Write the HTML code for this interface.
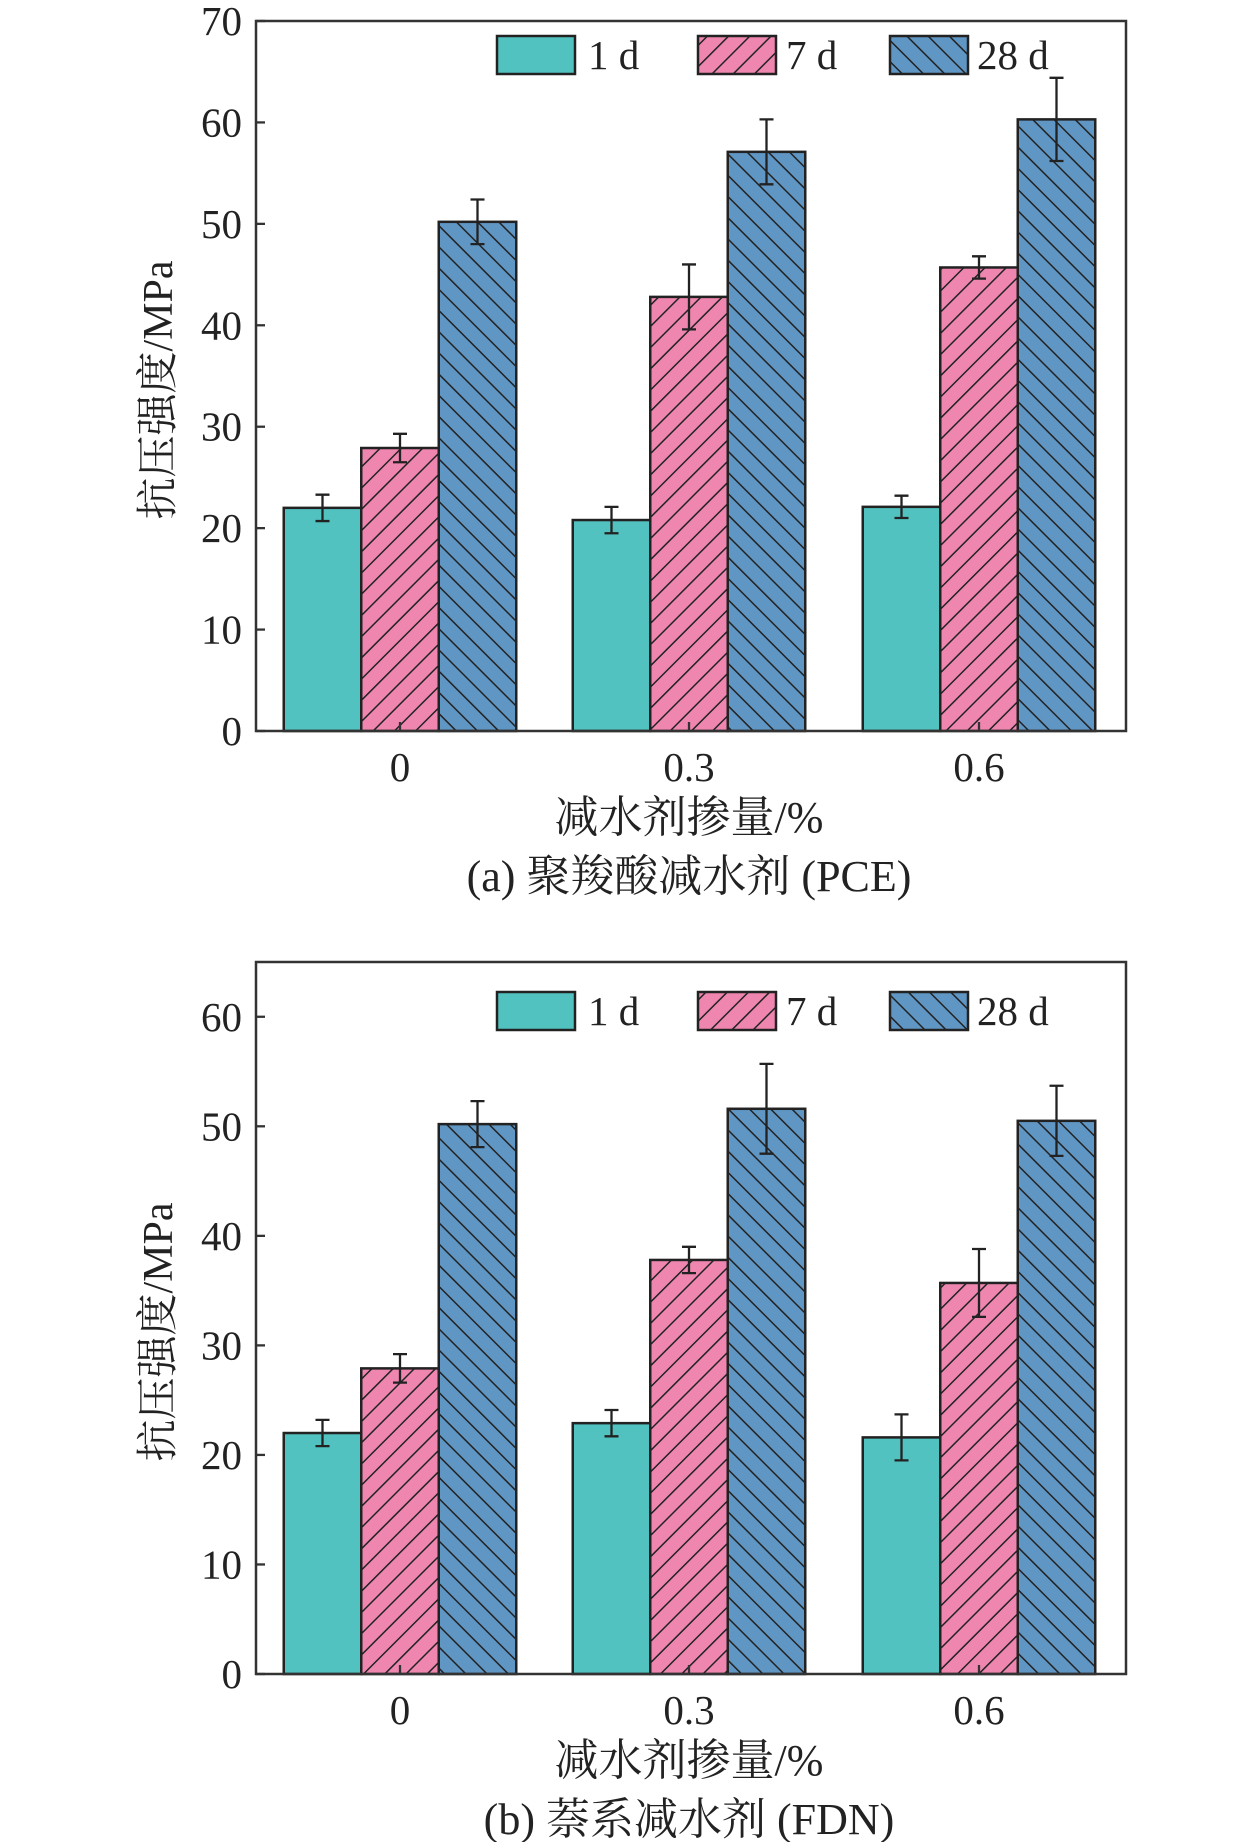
<!DOCTYPE html>
<html><head><meta charset="utf-8"><style>
html,body{margin:0;padding:0;background:#fff;}
svg text{font-family:"Liberation Serif","Noto Serif CJK SC",serif;fill:#222;}
</style></head><body>
<svg id="chart" width="1260" height="1842" viewBox="0 0 1260 1842" xmlns="http://www.w3.org/2000/svg">
<defs>
<pattern id="hp" patternUnits="userSpaceOnUse" width="15" height="15" patternTransform="rotate(45)"><rect width="15" height="15" fill="#ef86b0"/><line x1="0" y1="0" x2="0" y2="15" stroke="#222" stroke-width="3"/></pattern>
<pattern id="hb" patternUnits="userSpaceOnUse" width="15" height="15" patternTransform="rotate(-45)"><rect width="15" height="15" fill="#6096c4"/><line x1="0" y1="0" x2="0" y2="15" stroke="#222" stroke-width="3"/></pattern>
</defs>
</svg>
<script>
const categories = ["0","0.3","0.6"];
const seriesNames = ["1 d","7 d","28 d"];
const aVals1 = [22.0, 20.8, 22.1];
const aVals7 = [27.9, 42.8, 45.7];
const aVals28 = [50.2, 57.1, 60.3];
const aErr1 = [1.3, 1.3, 1.1];
const aErr7 = [1.4, 3.2, 1.1];
const aErr28 = [2.2, 3.2, 4.1];
const bVals1 = [22.0, 22.9, 21.6];
const bVals7 = [27.9, 37.8, 35.7];
const bVals28 = [50.2, 51.6, 50.5];
const bErr1 = [1.2, 1.2, 2.1];
const bErr7 = [1.3, 1.2, 3.1];
const bErr28 = [2.1, 4.1, 3.2];
const aTicks = [0,10,20,30,40,50,60,70];
const bTicks = [0,10,20,30,40,50,60];

const NS="http://www.w3.org/2000/svg";
const svg=document.getElementById('chart');
function mk(tag,attrs,parent){const e=document.createElementNS(NS,tag);for(const k in attrs)e.setAttribute(k,attrs[k]);(parent||svg).appendChild(e);return e;}
const fills=["#52c2c0","url(#hp)","url(#hb)"];

function panel(cfg){
  const g=mk('g',{});
  
  
  const L=256,R=1126,T=cfg.top,B=cfg.bottom;
  const y=v=>B-(v/cfg.max)*(B-T);
  const groupX=[400,689,979];
  const bw=77.5;
  const vals=[cfg.v1,cfg.v7,cfg.v28], errs=[cfg.e1,cfg.e7,cfg.e28];
  for(let s=0;s<3;s++){
    for(let i=0;i<categories.length;i++){
      const x=groupX[i]+(s-1.5)*bw;
      const r=mk('rect',{x:x,y:y(vals[s][i]),width:bw,height:B-y(vals[s][i]),fill:fills[s],stroke:"#222","stroke-width":2.5},g);
      
      
    }
  }
  for(let s=0;s<3;s++){
    for(let i=0;i<categories.length;i++){
      const cx=groupX[i]+(s-1)*bw;
      const hi=y(vals[s][i]+errs[s][i]), lo=y(vals[s][i]-errs[s][i]);
      const e=mk('path',{d:`M${cx} ${hi}V${lo}M${cx-7} ${hi}H${cx+7}M${cx-7} ${lo}H${cx+7}`,stroke:"#222","stroke-width":2.3,fill:"none"},g);
      
      
    }
  }
  const f=mk('rect',{x:L,y:T,width:R-L,height:B-T,fill:"none",stroke:"#333","stroke-width":2.5},g);
  
  
  cfg.ticks.forEach(t=>{
    mk('line',{x1:L,x2:L+9,y1:y(t),y2:y(t),stroke:"#333","stroke-width":2.3},g);
    const tx=mk('text',{x:L-14,y:y(t)+14,"font-size":41,"text-anchor":"end"},g);
    tx.textContent=t;
    
    
  });
  categories.forEach((c,i)=>{
    mk('line',{x1:groupX[i],x2:groupX[i],y1:B,y2:B-9,stroke:"#333","stroke-width":2.3},g);
    const tx=mk('text',{x:groupX[i],y:B+50,"font-size":41,"text-anchor":"middle"},g);
    tx.textContent=c;
    
    
  });
  const lx=[497,698,890], ltx=[588,786,977];
  for(let s=0;s<3;s++){
    const r=mk('rect',{x:lx[s],y:cfg.legY,width:78,height:38,fill:fills[s],stroke:"#222","stroke-width":2.5},g);
    
    
    const t=mk('text',{x:ltx[s],y:cfg.legY+33,"font-size":41},g);
    t.textContent=seriesNames[s];
    
    
  }
  const yl=mk('text',{x:0,y:0,"font-size":42,"text-anchor":"middle",transform:`translate(172 ${(T+B)/2+14}) rotate(-90)`},g);
  yl.textContent="抗压强度/MPa";
  
  
  const xl=mk('text',{x:689,y:B+101,"font-size":44,"text-anchor":"middle"},g);
  xl.textContent="减水剂掺量/%";
  
  
  const cp=mk('text',{x:689,y:B+160,"font-size":44,"text-anchor":"middle"},g);
  cp.textContent=cfg.caption;
  
  
}
panel({name:'panel-a-pce',top:21,bottom:731,max:70,ticks:aTicks,v1:aVals1,v7:aVals7,v28:aVals28,e1:aErr1,e7:aErr7,e28:aErr28,legY:36,caption:"(a) 聚羧酸减水剂 (PCE)"});
panel({name:'panel-b-fdn',top:962,bottom:1674,max:65,ticks:bTicks,v1:bVals1,v7:bVals7,v28:bVals28,e1:bErr1,e7:bErr7,e28:bErr28,legY:992,caption:"(b) 萘系减水剂 (FDN)"});
</script>
</body></html>
